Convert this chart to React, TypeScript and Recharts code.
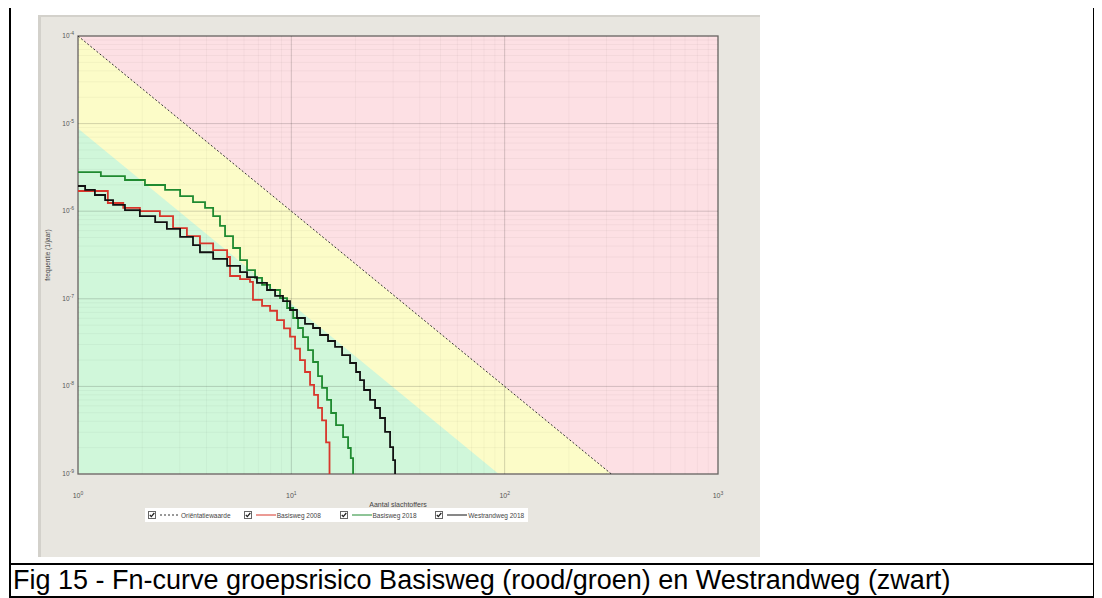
import React from 'react';
import {
  ComposedChart,
  Line,
  Area,
  XAxis,
  YAxis,
  ReferenceLine,
  ReferenceArea,
} from 'recharts';

// axes (log-log)
const xDecades = [1, 10, 100, 1000];
const yDecades = [1e-9, 1e-8, 1e-7, 1e-6, 1e-5, 1e-4];
const minorSteps = [2, 3, 4, 5, 6, 7, 8, 9];

// background zones + orientatiewaarde (F = 1e-4 / N^2)
const zoneRedN = [1, 1000];
const zoneRedF = [1e-4, 1e-4];
const orientN = [1, 316.2];
const orientF = [1e-4, 1e-9];
const zoneGreenN = [1, 93.8];
const zoneGreenF = [8.8e-6, 1e-9];

// Basisweg 2008 (rood)
const basis2008N = [1, 1.38, 1.63, 1.95, 2.42, 2.79, 3.24, 3.73, 4.3, 5.0, 5.16, 5.75, 6.4, 6.61, 7.29, 7.95, 8.57, 9.24, 9.86, 10.41, 10.98, 11.59, 12.24, 12.78, 13.34, 13.93, 14.55, 15.1];
const basis2008F = [1.7e-6, 1.24e-6, 1.09e-6, 1.0e-6, 8.8e-7, 6.4e-7, 5.2e-7, 4.3e-7, 3.6e-7, 3.0e-7, 1.82e-7, 1.68e-7, 1.56e-7, 9.7e-8, 8.3e-8, 7.3e-8, 5.7e-8, 4.6e-8, 3.7e-8, 2.7e-8, 2.0e-8, 1.46e-8, 1.04e-8, 8.0e-9, 5.7e-9, 4.1e-9, 2.3e-9, 1e-9];

// Basisweg 2018 (groen)
const basis2018N = [1, 1.28, 1.66, 2.06, 2.56, 3.01, 3.46, 3.94, 4.3, 4.63, 4.89, 5.33, 5.75, 6.2, 6.76, 7.29, 7.95, 8.85, 9.55, 10.2, 10.75, 11.34, 11.98, 12.64, 13.34, 13.93, 14.7, 15.36, 16.2, 17.48, 18.45, 19.0, 19.47];
const basis2018F = [2.8e-6, 2.52e-6, 2.27e-6, 1.99e-6, 1.75e-6, 1.49e-6, 1.27e-6, 1.09e-6, 8.8e-7, 6.8e-7, 5.2e-7, 3.8e-7, 2.77e-7, 2.13e-7, 1.73e-7, 1.44e-7, 1.26e-7, 1.02e-7, 7.85e-8, 6.04e-8, 4.64e-8, 3.66e-8, 2.6e-8, 1.9e-8, 1.31e-8, 9.6e-9, 7.0e-9, 4.97e-9, 3.62e-9, 2.64e-9, 1.98e-9, 1.52e-9, 1e-9];

// Westrandweg 2018 (zwart)
const westrandN = [1, 1.08, 1.2, 1.34, 1.46, 1.66, 1.95, 2.3, 2.61, 3.01, 3.46, 3.73, 4.3, 5.0, 5.75, 6.2, 6.9, 7.69, 8.39, 9.14, 9.86, 10.63, 11.59, 12.64, 13.63, 14.86, 16.03, 17.29, 18.85, 20.11, 20.99, 21.92, 23.39, 24.69, 26.05, 27.5, 29.03, 30.0, 30.64];
const westrandF = [1.94e-6, 1.75e-6, 1.53e-6, 1.34e-6, 1.18e-6, 1.03e-6, 8.8e-7, 7.5e-7, 6.3e-7, 5.1e-7, 4.1e-7, 3.4e-7, 2.85e-7, 2.37e-7, 2.02e-7, 1.77e-7, 1.52e-7, 1.26e-7, 1.08e-7, 9.4e-8, 7.45e-8, 6.04e-8, 5.16e-8, 4.64e-8, 3.86e-8, 3.3e-8, 2.82e-8, 2.28e-8, 1.85e-8, 1.46e-8, 1.18e-8, 9.1e-9, 7.0e-9, 5.67e-9, 4.36e-9, 3.02e-9, 2.03e-9, 1.44e-9, 1e-9];

const legendItems = [
  { name: 'Oriëntatiewaarde', color: '#333', dash: '2 2' },
  { name: 'Basisweg 2008', color: '#d8362b', dash: '' },
  { name: 'Basisweg 2018', color: '#1f8a30', dash: '' },
  { name: 'Westrandweg 2018', color: '#111', dash: '' },
];

const toPoints = (ns: number[], fs: number[]) => ns.map((n, i) => ({ n, f: fs[i] }));

const xMinor = xDecades.slice(0, -1).flatMap((d) => minorSteps.map((m) => d * m));
const yMinor = yDecades.slice(0, -1).flatMap((d) => minorSteps.map((m) => d * m));

const FONT = '"Liberation Sans", Arial, sans-serif';

const XTick = (props: any) => {
  const { x, y, payload } = props;
  const exp = Math.round(Math.log10(payload.value));
  return (
    <text x={x} y={y + 16} textAnchor="middle" fontSize={7} fill="#555" fontFamily={FONT}>
      10<tspan dy={-3} fontSize={5}>{exp}</tspan>
    </text>
  );
};

const YTick = (props: any) => {
  const { x, y, payload } = props;
  const exp = Math.round(Math.log10(payload.value));
  return (
    <text x={x + 4} y={y + 2} textAnchor="end" fontSize={6.5} fill="#555" fontFamily={FONT}>
      10<tspan dy={-3} fontSize={5}>{'-' + Math.abs(exp)}</tspan>
    </text>
  );
};

const CheckBox = () => (
  <svg width={8} height={8} style={{ display: 'block' }}>
    <rect x={0.5} y={0.5} width={7} height={7} fill="#fff" stroke="#666" />
    <path d="M1.8 3.8 L3.3 5.6 L6.3 2" fill="none" stroke="#222" strokeWidth={1.3} />
  </svg>
);

const App: React.FC = () => {
  return (
    <div
      style={{
        position: 'relative',
        width: 1086,
        height: 592,
        marginTop: -2,
        marginLeft: 1,
        border: '2px solid #000',
        boxSizing: 'border-box',
        background: '#fff',
        fontFamily: FONT,
      }}
    >
      <div
        style={{
          position: 'absolute',
          left: 27,
          top: 7,
          width: 722,
          height: 542,
          background: '#e8e6e0',
          boxShadow: 'inset 3px 2px 0 #d3d1cb',
        }}
      >
        <ComposedChart
          width={722}
          height={542}
          margin={{ top: 21, right: 42, left: 0, bottom: 43 }}
        >
          <XAxis
            dataKey="n"
            type="number"
            scale="log"
            domain={[1, 1000]}
            allowDataOverflow
            ticks={xDecades}
            axisLine={false}
            tickLine={false}
            height={40}
            tick={<XTick />}
            label={{ value: 'Aantal slachtoffers', position: 'center', dy: 11, fontSize: 7, fill: '#444', fontFamily: FONT }}
          />
          <YAxis
            dataKey="f"
            type="number"
            scale="log"
            domain={[1e-9, 1e-4]}
            allowDataOverflow
            ticks={yDecades}
            axisLine={false}
            tickLine={false}
            width={40}
            tick={<YTick />}
            label={{ value: 'frequentie (1/jaar)', angle: -90, position: 'center', dx: -10, fontSize: 6.5, fill: '#444', fontFamily: FONT }}
          />

          <Area data={toPoints(zoneRedN, zoneRedF)} dataKey="f" type="linear" baseValue={1e-9} stroke="none" fill="#fde0e4" fillOpacity={1} isAnimationActive={false} legendType="none" activeDot={false} />
          <Area data={toPoints(orientN, orientF)} dataKey="f" type="linear" baseValue={1e-9} stroke="none" fill="#fcfcc8" fillOpacity={1} isAnimationActive={false} legendType="none" activeDot={false} />
          <Area data={toPoints(zoneGreenN, zoneGreenF)} dataKey="f" type="linear" baseValue={1e-9} stroke="none" fill="#d0f7da" fillOpacity={1} isAnimationActive={false} legendType="none" activeDot={false} />

          {xMinor.map((v) => (
            <ReferenceLine key={'xm' + v} x={v} stroke="#000" strokeOpacity={0.035} />
          ))}
          {yMinor.map((v) => (
            <ReferenceLine key={'ym' + v} y={v} stroke="#000" strokeOpacity={0.04} />
          ))}
          {xDecades.map((v) => (
            <ReferenceLine key={'xM' + v} x={v} stroke="#000" strokeOpacity={0.17} />
          ))}
          {yDecades.map((v) => (
            <ReferenceLine key={'yM' + v} y={v} stroke="#000" strokeOpacity={0.17} />
          ))}
          <ReferenceArea x1={1} x2={1000} y1={1e-9} y2={1e-4} fill="none" stroke="#8a8583" strokeWidth={1.5} />

          <Line data={toPoints(orientN, orientF)} dataKey="f" type="linear" stroke="#333" strokeWidth={1} strokeDasharray="2 2" dot={false} activeDot={false} isAnimationActive={false} name="Oriëntatiewaarde" />
          <Line data={toPoints(basis2008N, basis2008F)} dataKey="f" type="stepAfter" stroke="#d8362b" strokeWidth={1.8} dot={false} activeDot={false} isAnimationActive={false} name="Basisweg 2008" />
          <Line data={toPoints(basis2018N, basis2018F)} dataKey="f" type="stepAfter" stroke="#1f8a30" strokeWidth={1.8} dot={false} activeDot={false} isAnimationActive={false} name="Basisweg 2018" />
          <Line data={toPoints(westrandN, westrandF)} dataKey="f" type="stepAfter" stroke="#111" strokeWidth={1.8} dot={false} activeDot={false} isAnimationActive={false} name="Westrandweg 2018" />
        </ComposedChart>

        {/* legend */}
        <div
          style={{
            position: 'absolute',
            left: 107,
            top: 493,
            width: 383,
            height: 14,
            background: '#fff',
            display: 'grid',
            gridTemplateColumns: 'repeat(4, 1fr)',
            alignItems: 'center',
            fontSize: 6.5,
            color: '#444',
          }}
        >
          {legendItems.map((it) => (
            <div key={it.name} style={{ display: 'flex', alignItems: 'center', paddingLeft: 3 }}>
              <CheckBox />
              <svg width={20} height={6} style={{ marginLeft: 4, marginRight: 1 }}>
                <line x1={0} y1={3} x2={20} y2={3} stroke={it.color} strokeWidth={1} strokeDasharray={it.dash || undefined} />
              </svg>
              <span style={{ whiteSpace: 'nowrap' }}>{it.name}</span>
            </div>
          ))}
        </div>
      </div>

      <div style={{ position: 'absolute', left: 0, right: 0, top: 555, height: 2, background: '#000' }} />
      <div
        style={{
          position: 'absolute',
          left: 2,
          top: 556,
          fontSize: 27,
          lineHeight: '33px',
          color: '#000',
          whiteSpace: 'nowrap',
        }}
      >
        Fig 15 - Fn-curve groepsrisico Basisweg (rood/groen) en Westrandweg (zwart)
      </div>
    </div>
  );
};

export default App;
